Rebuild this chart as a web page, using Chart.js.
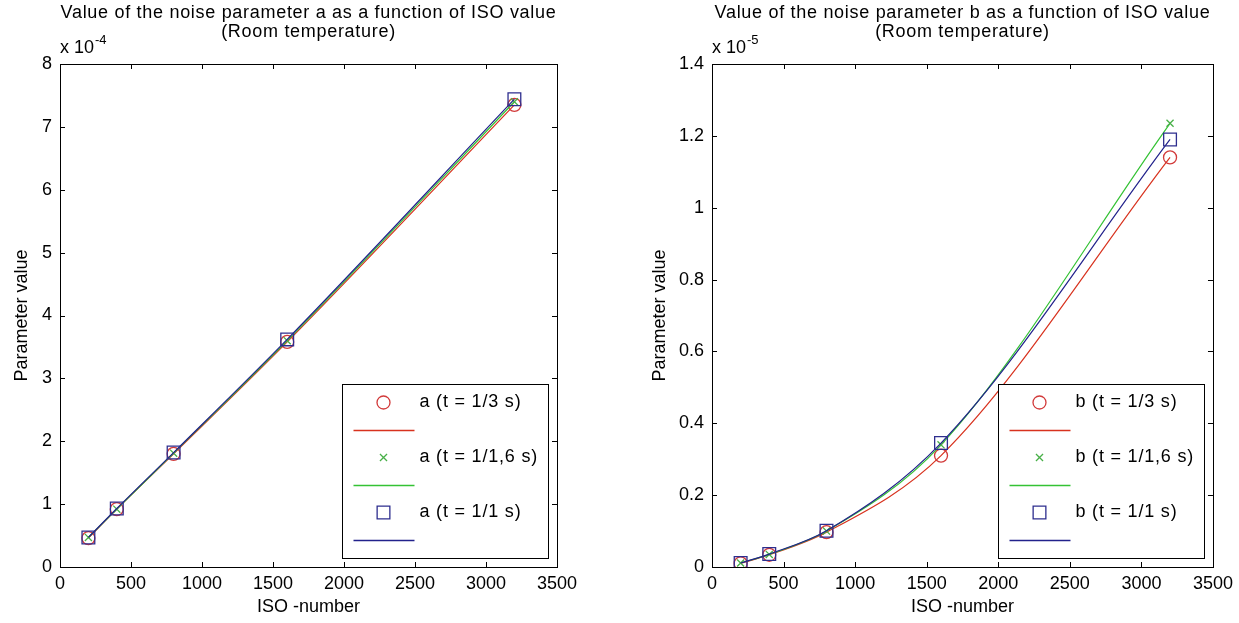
<!DOCTYPE html>
<html>
<head>
<meta charset="utf-8">
<script src="https://cdn.jsdelivr.net/npm/chart.js@4.4.1/dist/chart.umd.min.js"></script>
<style>
  html, body { margin: 0; padding: 0; background: #fff; }
  #wrap { position: relative; width: 1239px; height: 623px; overflow: hidden; }
  canvas { position: absolute; top: 0; }
  #chartA { left: 0; }
  #chartB { left: 620px; }
</style>
</head>
<body>
<div id="wrap">
  <canvas id="chartA" width="620" height="623"></canvas>
  <canvas id="chartB" width="619" height="623"></canvas>
</div>
<script>
// ── data
const isoValues = [200, 400, 800, 1600, 3200];

// parameter a, in units of 1e-4
const aT3  = [0.46, 0.92, 1.80, 3.58, 7.35];
const aT16 = [0.47, 0.92, 1.81, 3.60, 7.40];
const aT1  = [0.47, 0.93, 1.82, 3.62, 7.44];

// parameter b, in units of 1e-5
const bT3  = [0.010, 0.034, 0.097, 0.310, 1.140];
const bT16 = [0.011, 0.035, 0.100, 0.340, 1.235];
const bT1  = [0.011, 0.036, 0.101, 0.345, 1.190];

const xTicks  = [0, 500, 1000, 1500, 2000, 2500, 3000, 3500];
const yTicksA = [0, 1, 2, 3, 4, 5, 6, 7, 8];
const yTicksB = [0, 0.2, 0.4, 0.6, 0.8, 1, 1.2, 1.4];

const labelsA = ['a (t = 1/3 s)', 'a (t = 1/1,6 s)', 'a (t = 1/1 s)'];
const labelsB = ['b (t = 1/3 s)', 'b (t = 1/1,6 s)', 'b (t = 1/1 s)'];

const FONT = "'Liberation Sans', Arial, Helvetica, sans-serif";
const COLORS = {
  red  : { mark: '#d23a3a', line: '#d8321e' },
  green: { mark: '#48b048', line: '#34c234' },
  blue : { mark: '#2e2e8e', line: '#22228c' }
};
const STYLES = [
  { c: COLORS.red,   style: 'circle',   r: 6.5 },
  { c: COLORS.green, style: 'crossRot', r: 5 },
  { c: COLORS.blue,  style: 'rect',     r: 9 }
];

Chart.defaults.font.family = FONT;
Chart.defaults.font.size   = 18;
Chart.defaults.color       = '#000';

function pts(vals) {
  return isoValues.map((x, i) => ({ x: x, y: vals[i] }));
}

function buildDatasets(series) {
  const sets = [];
  // blue first so it is drawn on top
  [2, 1, 0].forEach(i => {
    const s = STYLES[i];
    sets.push({
      data: pts(series[i]),
      showLine: false,
      pointStyle: s.style,
      pointRadius: s.r,
      pointBorderWidth: 1.3,
      pointBorderColor: s.c.mark,
      pointBackgroundColor: 'rgba(0,0,0,0)'
    });
    sets.push({
      data: pts(series[i]),
      showLine: true,
      borderColor: s.c.line,
      borderWidth: 1.2,
      pointRadius: 0,
      cubicInterpolationMode: 'monotone'
    });
  });
  return sets;
}

function drawMarker(ctx, style, r, color, x, y) {
  ctx.save();
  ctx.strokeStyle = color;
  ctx.lineWidth = 1.3;
  ctx.beginPath();
  if (style === 'circle') {
    ctx.arc(x, y, r, 0, Math.PI * 2);
  } else if (style === 'rect') {
    const h = r * Math.SQRT1_2;
    ctx.rect(x - h, y - h, 2 * h, 2 * h);
  } else {
    const h = r * Math.SQRT1_2;
    ctx.moveTo(x - h, y - h); ctx.lineTo(x + h, y + h);
    ctx.moveTo(x + h, y - h); ctx.lineTo(x - h, y + h);
  }
  ctx.stroke();
  ctx.restore();
}

// box, inward ticks, titles, exponent and the legend
const matlabFrame = {
  id: 'matlabFrame',
  beforeDatasetsDraw(chart, args, opts) {
    const { ctx, chartArea: a, scales: { x, y } } = chart;
    ctx.save();
    ctx.strokeStyle = '#000';
    ctx.lineWidth = 1;
    ctx.strokeRect(Math.round(a.left) + 0.5, Math.round(a.top) + 0.5,
                   Math.round(a.width), Math.round(a.height));
    ctx.beginPath();
    x.ticks.forEach(t => {
      const px = Math.round(x.getPixelForValue(t.value)) + 0.5;
      ctx.moveTo(px, a.bottom); ctx.lineTo(px, a.bottom - 5);
      ctx.moveTo(px, a.top);    ctx.lineTo(px, a.top + 5);
    });
    y.ticks.forEach(t => {
      const py = Math.round(y.getPixelForValue(t.value)) + 0.5;
      ctx.moveTo(a.left, py);  ctx.lineTo(a.left + 5, py);
      ctx.moveTo(a.right, py); ctx.lineTo(a.right - 5, py);
    });
    ctx.stroke();

    // title, two lines
    const cx = (a.left + a.right) / 2;
    ctx.fillStyle = '#000';
    ctx.textAlign = 'center';
    ctx.textBaseline = 'middle';
    ctx.font = '18px ' + FONT;
    ctx.letterSpacing = '0.7px';
    ctx.fillText(opts.title, cx, 13);
    ctx.fillText('(Room temperature)', cx, 32);

    // exponent
    ctx.letterSpacing = '0px';
    ctx.textAlign = 'left';
    ctx.fillText('x 10', a.left, 48);
    const w = ctx.measureText('x 10').width;
    ctx.font = '13px ' + FONT;
    ctx.fillText(opts.exp, a.left + w + 1, 40);
    ctx.restore();
  },
  afterDatasetsDraw(chart, args, opts) {
    const { ctx, chartArea: a } = chart;
    const bw = 206, bh = 174;
    const bx = Math.round(a.right - 9 - bw) + 0.5;
    const by = Math.round(a.bottom - 9 - bh) + 0.5;
    ctx.save();
    ctx.fillStyle = '#fff';
    ctx.fillRect(bx, by, bw, bh);
    ctx.strokeStyle = '#000';
    ctx.lineWidth = 1;
    ctx.strokeRect(bx, by, bw, bh);
    ctx.font = '18px ' + FONT;
    ctx.letterSpacing = '0.8px';
    ctx.textAlign = 'left';
    ctx.textBaseline = 'middle';
    STYLES.forEach((s, i) => {
      const my = by + 18 + i * 55;
      const ly = Math.round(my + 27) + 0.5;
      drawMarker(ctx, s.style, s.r, s.c.mark, bx + 41, my);
      ctx.fillStyle = '#000';
      ctx.fillText(opts.labels[i], bx + 77, my);
      ctx.strokeStyle = s.c.line;
      ctx.lineWidth = 1.3;
      ctx.beginPath();
      ctx.moveTo(bx + 11, ly); ctx.lineTo(bx + 72, ly);
      ctx.stroke();
    });
    ctx.restore();
  }
};

function makeChart(id, series, yTicks, opts) {
  return new Chart(document.getElementById(id), {
    type: 'line',
    data: { datasets: buildDatasets(series) },
    options: {
      responsive: false,
      animation: false,
      events: [],
      layout: { padding: { left: 0, top: 64, right: opts.padRight, bottom: 0 } },
      plugins: {
        legend : { display: false },
        tooltip: { enabled: false },
        matlabFrame: { title: opts.title, exp: opts.exp, labels: opts.labels }
      },
      scales: {
        x: {
          type: 'linear',
          min: 0, max: 3500,
          afterBuildTicks: s => { s.ticks = xTicks.map(v => ({ value: v })); },
          afterFit: s => { s.height = 56; },
          ticks: { padding: 6, maxRotation: 0, autoSkip: false, callback: v => String(v) },
          grid : { display: false, drawTicks: false },
          border: { display: false },
          title: { display: true, text: 'ISO -number', padding: { top: 0, bottom: 5 } }
        },
        y: {
          type: 'linear',
          min: yTicks[0], max: yTicks[yTicks.length - 1],
          afterBuildTicks: s => { s.ticks = yTicks.map(v => ({ value: v })); },
          afterFit: s => { s.width = opts.yWidth; },
          ticks: { padding: 8, autoSkip: false, callback: v => String(Math.round(v * 10) / 10) },
          grid : { display: false, drawTicks: false },
          border: { display: false },
          title: { display: true, text: 'Parameter value', padding: { top: opts.yTitlePad, bottom: 0 } }
        }
      }
    },
    plugins: [matlabFrame]
  });
}

makeChart('chartA', [aT3, aT16, aT1], yTicksA, {
  title: 'Value of the noise parameter a as a function of ISO value',
  exp: '-4', labels: labelsA, padRight: 63, yWidth: 60, yTitlePad: 11
});

makeChart('chartB', [bT3, bT16, bT1], yTicksB, {
  title: 'Value of the noise parameter b as a function of ISO value',
  exp: '-5', labels: labelsB, padRight: 26, yWidth: 92, yTitlePad: 29
});
</script>
</body>
</html>
